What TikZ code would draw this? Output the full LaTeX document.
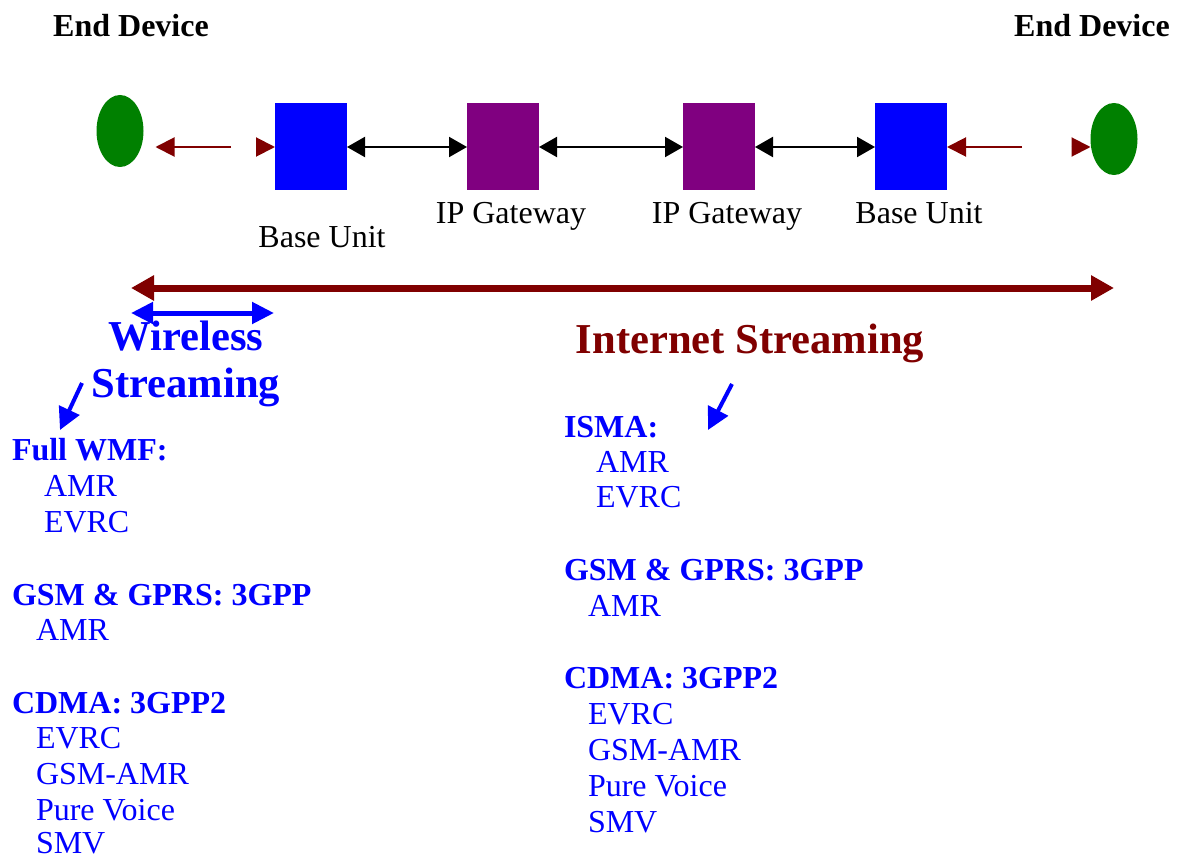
\documentclass[tikz,border=0pt]{standalone}
\usepackage{fontspec}
\setmainfont{Liberation Serif}
\usetikzlibrary{arrows.meta,positioning,shapes.geometric}
\definecolor{linkred}{RGB}{128,0,0}
\definecolor{devgreen}{RGB}{0,128,0}
\definecolor{gwpurple}{RGB}{128,0,128}
\definecolor{txtblue}{RGB}{0,0,255}

\begin{document}
\begin{tikzpicture}[
  x=0.5pt, y=-0.5pt,
  every node/.style={inner sep=0pt, outer sep=0pt},
  %% --- devices ---
  enddev/.style={fill=devgreen, ellipse, minimum width=23.5pt, minimum height=36pt},
  baseunit/.style={fill=blue, minimum width=36pt, minimum height=43.5pt},
  gateway/.style={fill=gwpurple, minimum width=36pt, minimum height=43.5pt},
  %% --- texts ---
  devtitle/.style={font=\fontsize{16}{18}\selectfont\bfseries, anchor=base},
  lbl/.style={font=\fontsize{16}{18}\selectfont, anchor=base},
  streamtitle/.style={font=\fontsize{21.3}{23.5}\selectfont\bfseries, align=center},
  grouphead/.style={font=\fontsize{16}{18}\selectfont\bfseries, text=txtblue, anchor=base west},
  codec/.style={font=\fontsize{16}{18}\selectfont, text=txtblue, anchor=base west},
  %% --- arrows ---
  radiolink/.style={-{Triangle[length=9.5pt,width=9.5pt]}, color=linkred, line width=1pt},
  wirelink/.style={{Triangle[length=9pt,width=10pt]}-{Triangle[length=9pt,width=10pt]}, line width=1pt},
  spanarrow/.style={{Triangle[length=11.5pt,width=12pt]}-{Triangle[length=11.5pt,width=12pt]}, color=linkred, line width=3.5pt},
  wlarrow/.style={{Triangle[length=11pt,width=10.5pt]}-{Triangle[length=11pt,width=10.5pt]}, color=txtblue, line width=2.5pt},
  ptr/.style={-{Triangle[length=11pt,width=11pt]}, color=txtblue, line width=2pt}
]
  \useasboundingbox (0,0) rectangle (1179,856);

  %% --- end devices and network chain ---
  \node[devtitle] (devLt) at (131,37) {End Device};
  \node[devtitle] (devRt) at (1092,37) {End Device};

  \node[enddev] (ellL) at (120,131) {};
  \node[enddev] (ellR) at (1114,139) {};
  \node[baseunit] (buL) at (311,147) {};
  \node[gateway, right=60pt of buL] (gw1) {};
  \node[gateway, right=72pt of gw1] (gw2) {};
  \node[baseunit, right=60pt of gw2] (buR) {};

  \node[lbl] (buLl) at (322,248) {Base Unit};
  \node[lbl] (gw1l) at (511,223) {IP Gateway};
  \node[lbl] (gw2l) at (727,223) {IP Gateway};
  \node[lbl] (buRl) at (919,223) {Base Unit};

  % wired links
  \foreach \a/\b in {buL/gw1, gw1/gw2, gw2/buR}
    \draw[wirelink] (\a) -- (\b);

  % radio links
  \coordinate (airL) at (231,147);
  \coordinate (airR) at (1022,147);
  \coordinate (airRe) at (ellR.west |- airR);
  \draw[radiolink, shorten >=6pt] (airL) -- (ellL.east |- airL);
  \draw[radiolink] ([xshift=-9.5pt]buL.west) -- (buL.west);
  \draw[radiolink] (airR) -- (buR.east |- airR);
  \draw[radiolink] ([xshift=-9.5pt]airRe) -- (airRe);

  %% --- streaming spans ---
  \coordinate (netL) at (131,288);
  \coordinate (netR) at (1114,288);
  \draw[spanarrow] (netL) -- (netR);
  \coordinate (wlsL) at (131,313);
  \coordinate (wlsR) at (274,313);
  \draw[wlarrow] (wlsL) -- (wlsR);

  \node[streamtitle, text=txtblue] (wls) at (186,364) {Wireless\\Streaming};
  \node[streamtitle, text=linkred, anchor=base] (inet) at (750,353) {Internet Streaming};

  % pointers to the codec lists
  \coordinate (pL0) at (82,383);
  \coordinate (pL1) at (60,430);
  \draw[ptr] (pL0) -- (pL1);
  \coordinate (pR0) at (732,384);
  \coordinate (pR1) at (708,430);
  \draw[ptr] (pR0) -- (pR1);

  %% --- codec lists ---
  \foreach \x/\y/\t [count=\i] in {12/460/Full WMF:, 12/605/GSM \& GPRS: 3GPP, 12/713/CDMA: 3GPP2,
                                   564/437/ISMA:, 564/580/GSM \& GPRS: 3GPP, 564/688/CDMA: 3GPP2}
    \node[grouphead] (grp\i) at (\x,\y) {\t};

  \foreach \x/\y/\t [count=\i] in {44/496/AMR, 44/532/EVRC, 36/640/AMR, 36/748/EVRC,
                                   36/784/GSM-AMR, 36/820/Pure Voice, 36/853/SMV,
                                   596/472/AMR, 596/507/EVRC, 588/616/AMR, 588/724/EVRC,
                                   588/760/GSM-AMR, 588/796/Pure Voice, 588/832/SMV}
    \node[codec] (cdc\i) at (\x,\y) {\t};

\end{tikzpicture}
\end{document}
